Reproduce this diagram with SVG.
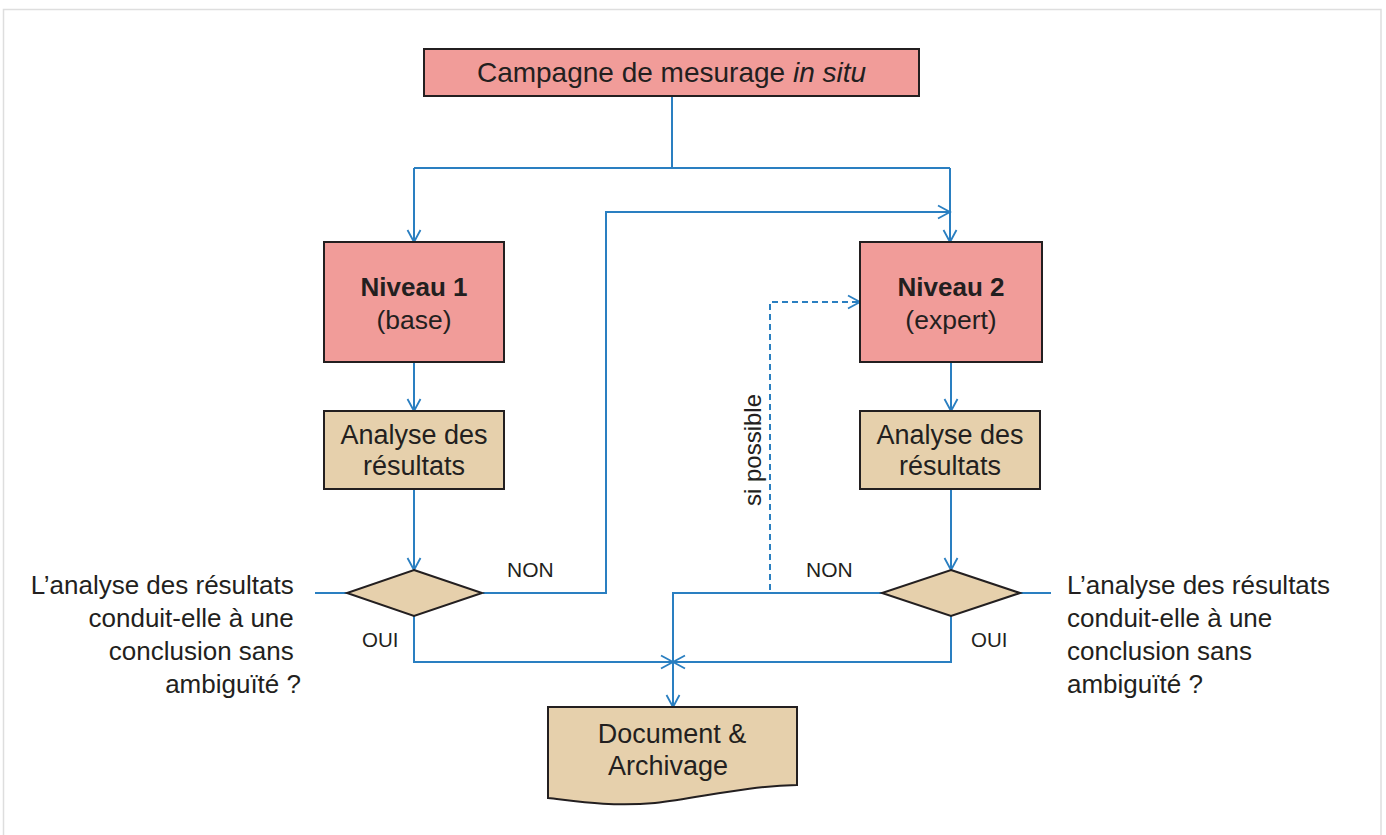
<svg xmlns="http://www.w3.org/2000/svg" width="1386" height="835" viewBox="0 0 1386 835">
  <style>
    .t { font-family: "Liberation Sans", Arial, sans-serif; fill: #231f20; }
    .pink { fill: #f19c99; stroke: #231f20; stroke-width: 2; }
    .tan { fill: #e6d0ac; stroke: #231f20; stroke-width: 2; }
    .ln { fill: none; stroke: #2a7fc1; stroke-width: 2; }
    .dash { fill: none; stroke: #2a7fc1; stroke-width: 2; stroke-dasharray: 6 4; }
  </style>
  <defs>
    <marker id="arr" markerUnits="userSpaceOnUse" markerWidth="16" markerHeight="16" viewBox="0 0 13 16" refX="12.5" refY="8" orient="auto">
      <path d="M0.5,1.5 L12.5,8 L0.5,14.5" fill="none" stroke="#2a7fc1" stroke-width="1.8"/>
    </marker>
  </defs>
  <rect x="3.5" y="9.5" width="1377.5" height="830" fill="#ffffff" stroke="#dedede" stroke-width="1.5"/>

  <g id="connectors">
    <path class="ln" d="M672,96 V168"/>
    <path class="ln" d="M414,168 H950" />
    <path class="ln" d="M414,168 V242" marker-end="url(#arr)"/>
    <path class="ln" d="M950,168 V242" marker-end="url(#arr)"/>
    <path class="ln" d="M414,362 V411" marker-end="url(#arr)"/>
    <path class="ln" d="M951,362 V411" marker-end="url(#arr)"/>
    <path class="ln" d="M414,489 V570" marker-end="url(#arr)"/>
    <path class="ln" d="M951,489 V570" marker-end="url(#arr)"/>
    <path class="ln" d="M315,593 H347"/>
    <path class="ln" d="M1020,593 H1051"/>
    <path class="ln" d="M483,593 H606 V212 H950" marker-end="url(#arr)"/>
    <path class="dash" d="M770,590 V302 H860" marker-end="url(#arr)"/>
    <path class="ln" d="M882,593 H673 V707" marker-end="url(#arr)"/>
    <path class="ln" d="M414,616 V662 H673" marker-end="url(#arr)"/>
    <path class="ln" d="M951,616 V662 H673" marker-end="url(#arr)"/>
  </g>

  <g id="campagne">
    <rect class="pink" x="424" y="49" width="495" height="47"/>
    <text class="t" x="671.5" y="82" font-size="28" text-anchor="middle">Campagne de mesurage <tspan font-style="italic">in situ</tspan></text>
  </g>

  <g id="niveau1">
    <rect class="pink" x="324" y="242" width="180" height="120"/>
    <text class="t" x="414" y="296" font-size="26" font-weight="bold" text-anchor="middle">Niveau 1</text>
    <text class="t" x="414" y="329" font-size="26.5" text-anchor="middle">(base)</text>
  </g>

  <g id="niveau2">
    <rect class="pink" x="860" y="242" width="182" height="120"/>
    <text class="t" x="951" y="296" font-size="26" font-weight="bold" text-anchor="middle">Niveau 2</text>
    <text class="t" x="951" y="329" font-size="26.5" text-anchor="middle">(expert)</text>
  </g>

  <g id="analyse1">
    <rect class="tan" x="324" y="411" width="180" height="78"/>
    <text class="t" x="414" y="444" font-size="27" text-anchor="middle">Analyse des</text>
    <text class="t" x="414" y="475" font-size="27" text-anchor="middle">résultats</text>
  </g>

  <g id="analyse2">
    <rect class="tan" x="860" y="411" width="180" height="78"/>
    <text class="t" x="950" y="444" font-size="27" text-anchor="middle">Analyse des</text>
    <text class="t" x="950" y="475" font-size="27" text-anchor="middle">résultats</text>
  </g>

  <g id="decision1">
    <polygon class="tan" points="414,570 482,593 414,616 347,593"/>
  </g>

  <g id="decision2">
    <polygon class="tan" points="951,570 1020,593 951,616 882,593"/>
  </g>

  <g id="document">
    <path class="tan" d="M548,707 H797 V785 C745,786 700,798 655,803 C610,807 575,801 548,798 Z"/>
    <text class="t" x="672" y="743" font-size="27" text-anchor="middle">Document &amp;</text>
    <text class="t" x="668" y="775" font-size="27" text-anchor="middle">Archivage</text>
  </g>

  <g id="labels">
    <text class="t" x="507" y="577" font-size="21">NON</text>
    <text class="t" x="806" y="577" font-size="21">NON</text>
    <text class="t" x="362" y="647" font-size="20.5">OUI</text>
    <text class="t" x="971" y="647" font-size="20.5">OUI</text>
    <text class="t" transform="translate(761,450) rotate(-90)" font-size="24" text-anchor="middle">si possible</text>
  </g>

  <g id="question1">
    <text class="t" font-size="26" text-anchor="end">
      <tspan x="301" y="594">L’analyse des résultats</tspan>
      <tspan x="301" y="627">conduit-elle à une</tspan>
      <tspan x="301" y="660">conclusion sans</tspan>
      <tspan x="301" y="693">ambiguïté ?</tspan>
    </text>
  </g>

  <g id="question2">
    <text class="t" font-size="26">
      <tspan x="1067" y="594">L’analyse des résultats</tspan>
      <tspan x="1067" y="627">conduit-elle à une</tspan>
      <tspan x="1067" y="660">conclusion sans</tspan>
      <tspan x="1067" y="693">ambiguïté ?</tspan>
    </text>
  </g>
</svg>
